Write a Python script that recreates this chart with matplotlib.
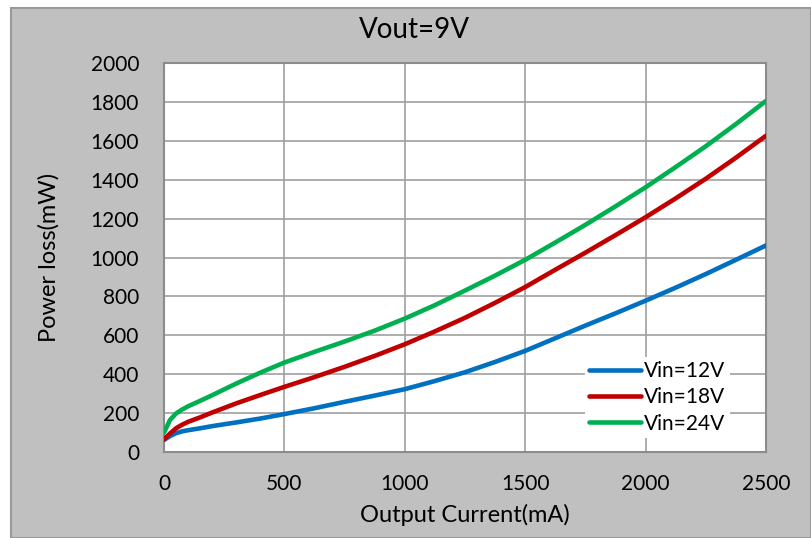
import matplotlib.pyplot as plt
from matplotlib.patches import Rectangle

plt.rcParams['font.family'] = ['Lato', 'DejaVu Sans']

# output current (mA)
current = [0, 25, 50, 75, 100, 150, 200, 300, 400, 500, 625, 750, 875, 1000, 1125, 1250,
           1375, 1500, 1625, 1750, 1875, 2000, 2125, 2250, 2375, 2500]
# power loss (mW) for each input voltage
loss_12v = [62, 82, 97, 106, 112, 122, 133, 152, 172, 195, 225, 258, 290, 323, 365, 410,
            463, 520, 585, 650, 713, 778, 845, 915, 988, 1062]
loss_18v = [65, 95, 122, 140, 155, 178, 203, 250, 293, 335, 385, 438, 494, 554, 620, 690,
            767, 848, 937, 1025, 1115, 1207, 1304, 1405, 1513, 1626]
loss_24v = [100, 165, 198, 218, 235, 263, 292, 352, 408, 460, 515, 568, 624, 686, 755, 830,
            907, 988, 1077, 1168, 1263, 1361, 1465, 1572, 1686, 1805]

labels = ['Vin=12V', 'Vin=18V', 'Vin=24V']
colors = ['#0070C0', '#C00000', '#00B050']

fig = plt.figure(figsize=(8.11, 5.38), dpi=100, facecolor='white')
# grey chart area with border
fig.patches.append(Rectangle((11/811, 0), 1 - 11/811, 1 - 8/538, transform=fig.transFigure,
                             facecolor='#c0c0c0', edgecolor='#999999', linewidth=1.5, zorder=-10))

ax = fig.add_axes([164/811, 1 - 452/538, 602/811, 389/538])
ax.set_facecolor('white')

for y, lab, c in zip([loss_12v, loss_18v, loss_24v], labels, colors):
    ax.plot(current, y, color=c, linewidth=3.3, label=lab, solid_capstyle='round',
            solid_joinstyle='round', zorder=3)

ax.set_xlim(0, 2500)
ax.set_ylim(0, 2000)
ax.set_xticks(range(0, 2501, 500))
ax.set_yticks(range(0, 2001, 200))
ax.grid(True, color='#a0a0a0', linewidth=1.2)
ax.set_axisbelow(True)
for s in ax.spines.values():
    s.set_color('#8c8c8c')
    s.set_linewidth(1.5)
ax.tick_params(length=0, labelsize=15)
ax.tick_params(axis='y', pad=18)
ax.tick_params(axis='x', pad=16)

ax.set_xlabel('Output Current(mA)', fontsize=17, labelpad=7)
ax.set_ylabel('Power loss(mW)', fontsize=17, labelpad=22)
fig.text(414/811, 1 - 30/538, 'Vout=9V', fontsize=20, ha='center', va='center')

leg = ax.legend(loc='upper left', bbox_to_anchor=((585 - 164)/602, (452 - 357)/389),
                fontsize=15, frameon=True, fancybox=False, handlelength=2.5,
                handletextpad=0.15, labelspacing=0.3, borderpad=0.2, borderaxespad=0)
leg.get_frame().set_edgecolor('none')
leg.get_frame().set_facecolor('white')
leg.get_frame().set_alpha(1)

fig.savefig('out.png', dpi=100, facecolor='white')
